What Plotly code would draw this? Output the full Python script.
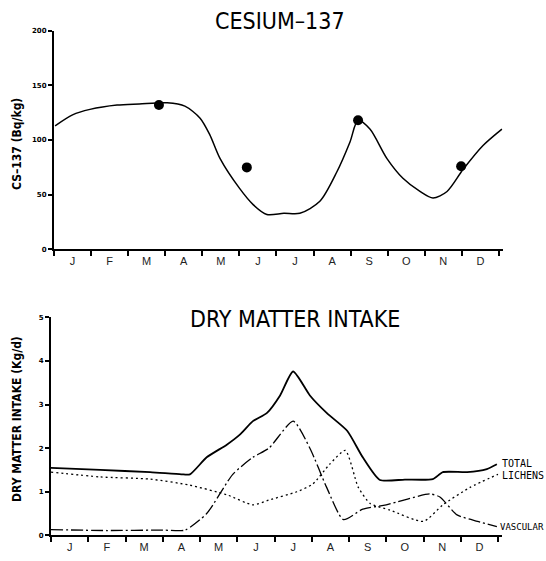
import plotly.graph_objects as go

months = ["J", "F", "M", "A", "M", "J", "J", "A", "S", "O", "N", "D"]

# Cesium-137 fitted curve (month position, Bq/kg)
cs_x = [0.03, 0.5, 0.97, 1.7, 2.3, 3.05, 3.53, 3.94, 4.2, 4.48, 5.0, 5.37, 5.74, 6.2, 6.63,
        7.17, 7.63, 7.98, 8.2, 8.52, 8.98, 9.41, 9.87, 10.22, 10.6, 11.03, 11.57, 12.08]
cs_y = [113, 123, 128, 132, 133, 134, 131, 120, 105, 83, 56, 41, 32, 33, 33,
        44, 71, 98, 118, 110, 83, 65, 53, 47, 53, 73, 95, 110]
# Cesium-137 observed points
pt_x = [2.83, 5.2, 8.2, 10.98]
pt_y = [132, 75, 118, 76]

# Dry matter intake (kg/d)
tot_x = [0.0, 1.32, 2.66, 3.5, 3.73, 4.18, 4.72, 5.07, 5.42, 5.8, 6.15, 6.5, 6.95, 7.4, 7.95,
         8.37, 8.83, 9.5, 10.25, 10.52, 11.17, 11.7, 11.97]
tot_y = [1.55, 1.5, 1.45, 1.4, 1.4, 1.79, 2.08, 2.31, 2.62, 2.81, 3.21, 3.76, 3.21, 2.81, 2.4,
         1.79, 1.27, 1.28, 1.29, 1.45, 1.45, 1.52, 1.63]
lic_x = [0.0, 1.32, 2.66, 3.73, 4.72, 5.42, 5.85, 6.6, 7.03, 7.48, 7.9, 8.25, 8.57, 9.1, 10.0,
         10.52, 11.25, 12.0]
lic_y = [1.45, 1.34, 1.29, 1.15, 0.93, 0.7, 0.81, 1.0, 1.18, 1.63, 1.95, 1.1, 0.73, 0.58, 0.32,
         0.7, 1.1, 1.4]
vas_x = [0.0, 1.5, 3.0, 3.6, 4.18, 4.88, 5.42, 5.85, 6.5, 6.95, 7.4, 7.85, 8.37, 9.0, 10.17,
         10.44, 10.9, 11.45, 11.97]
vas_y = [0.13, 0.11, 0.12, 0.12, 0.5, 1.4, 1.79, 2.0, 2.62, 2.0, 1.1, 0.36, 0.6, 0.7, 0.95,
         0.88, 0.47, 0.32, 0.2]
series_labels = ["TOTAL", "LICHENS", "VASCULAR"]

fig = go.Figure()
fig.add_trace(go.Scatter(x=cs_x, y=cs_y, mode="lines", line=dict(color="black", width=1.5, shape="spline", smoothing=0.8),
                         xaxis="x", yaxis="y", showlegend=False))
fig.add_trace(go.Scatter(x=pt_x, y=pt_y, mode="markers", marker=dict(color="black", size=10),
                         xaxis="x", yaxis="y", showlegend=False))
fig.add_trace(go.Scatter(x=tot_x, y=tot_y, mode="lines", line=dict(color="black", width=1.8, shape="spline", smoothing=0.6),
                         xaxis="x2", yaxis="y2", showlegend=False))
fig.add_trace(go.Scatter(x=lic_x, y=lic_y, mode="lines", line=dict(color="black", width=1.3, dash="2px,3px", shape="spline", smoothing=0.6),
                         xaxis="x2", yaxis="y2", showlegend=False))
fig.add_trace(go.Scatter(x=vas_x, y=vas_y, mode="lines", line=dict(color="black", width=1.3, dash="12px,3px,2px,3px", shape="spline", smoothing=0.6),
                         xaxis="x2", yaxis="y2", showlegend=False))

cond = "DejaVu Sans Condensed, Liberation Sans Narrow, sans-serif"
tickfont = dict(family="Liberation Sans, sans-serif", size=11, color="#222")
xcommon = dict(range=[0, 12.1], tickvals=[i + 0.5 for i in range(12)], ticktext=months, ticks="",
               showline=True, linecolor="black", linewidth=2, showgrid=False, zeroline=False,
               tickfont=tickfont, fixedrange=True,
               minor=dict(tickvals=list(range(13)), ticks="outside", ticklen=5, tickwidth=1.5, tickcolor="black"))
ycommon = dict(showline=True, linecolor="black", linewidth=2, showgrid=False, zeroline=False,
               ticks="outside", ticklen=4, tickwidth=1.5, tickcolor="black",
               tickfont=dict(family="DejaVu Sans", size=7, color="black", weight="bold"))

W, H = 546, 561
fig.update_layout(
    width=W, height=H, margin=dict(l=0, r=0, t=0, b=0),
    paper_bgcolor="white", plot_bgcolor="white",
    xaxis=dict(domain=[54 / W, (54 + 37.08 * 12.1) / W], anchor="y", **xcommon),
    yaxis=dict(domain=[(H - 249) / H, (H - 27) / H], range=[0, 200], tickvals=[0, 50, 100, 150, 200],
               anchor="x", **ycommon),
    xaxis2=dict(domain=[51 / W, (51 + 37.25 * 12.1) / W], anchor="y2", **xcommon),
    yaxis2=dict(domain=[(H - 539) / H, (H - 318) / H], range=[0, 5], tickvals=[0, 1, 2, 3, 4, 5],
                anchor="x2", **ycommon),
)

title_font = dict(family=cond, size=23, color="black")
fig.add_annotation(text="CESIUM–137", x=280 / W, y=1 - 17 / H, xref="paper", yref="paper",
                   showarrow=False, font=title_font, xanchor="center", yanchor="middle")
fig.add_annotation(text="DRY MATTER INTAKE", x=295 / W, y=1 - 320 / H, xref="paper", yref="paper",
                   showarrow=False, font=title_font, xanchor="center", yanchor="middle")

axis_title_font = dict(family=cond, size=12, color="black", weight="bold")
fig.add_annotation(text="CS–137 (Bq/kg)", x=17 / W, y=1 - 142 / H, xref="paper", yref="paper",
                   showarrow=False, font=axis_title_font, textangle=-90, xanchor="center", yanchor="middle")
fig.add_annotation(text="DRY MATTER INTAKE (Kg/d)", x=17 / W, y=1 - 421 / H, xref="paper", yref="paper",
                   showarrow=False, font=axis_title_font, textangle=-90, xanchor="center", yanchor="middle")

lab_sizes = [10, 10, 9]
lab_pos = [(12.05, 1.65), (12.05, 1.38), (12.0, 0.2)]
for txt, (lx, ly), sz in zip(series_labels, lab_pos, lab_sizes):
    fig.add_annotation(text=txt, x=lx, y=ly, xref="x2", yref="y2", showarrow=False,
                       font=dict(family="DejaVu Sans Mono, monospace", size=sz, color="black"),
                       xanchor="left", yanchor="middle")

fig.write_html("out.html")
